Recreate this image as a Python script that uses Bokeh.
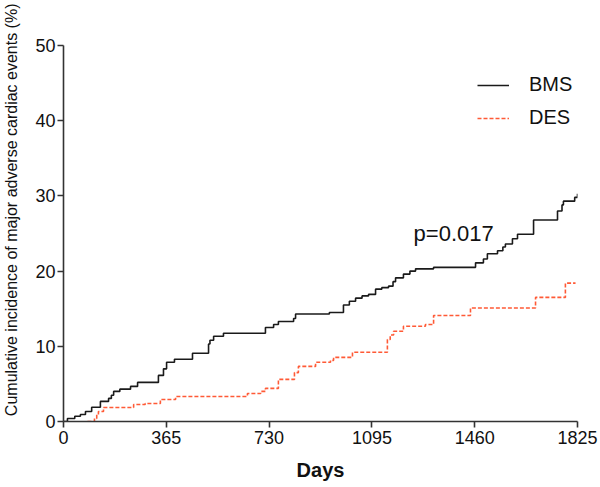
from bokeh.plotting import figure
from bokeh.models import Range1d, FixedTicker, Legend, LegendItem, Label, Title
from bokeh.embed import file_html
from bokeh.resources import INLINE

# BMS curve (day, cumulative %)
bms_days = [0, 14, 40, 60, 78, 100, 131, 160, 170, 178, 200, 238, 263, 337, 355, 366, 394, 458,
            515, 520, 533, 568, 717, 746, 763, 817, 824, 944, 994, 1015, 1037, 1060, 1083, 1108,
            1130, 1154, 1170, 1179, 1207, 1230, 1250, 1314, 1463, 1491, 1505, 1541, 1560, 1569,
            1594, 1612, 1669, 1754, 1770, 1775, 1815, 1825]
bms_pct = [0, 0.4, 0.7, 0.93, 1.33, 1.9, 2.67, 3.07, 3.5, 4.0, 4.3, 4.67, 5.2, 6.13, 7.0, 7.87, 8.27, 9.07,
           10.3, 10.8, 11.33, 11.73, 12.5, 12.9, 13.3, 13.7, 14.3, 14.5, 15.5, 16.0, 16.4, 16.7, 16.9, 17.6,
           17.8, 18.0, 18.6, 19.1, 19.6, 20.0, 20.3, 20.5, 21.1, 21.6, 22.3, 22.7, 23.2, 23.6,
           24.3, 24.9, 26.8, 28.0, 28.8, 29.3, 29.8, 30.3]

# DES curve (day, cumulative %)
des_days = [85, 110, 118, 124, 142, 249, 290, 344, 398, 653, 700, 717, 763, 820, 834, 895, 948, 959,
            1026, 1150, 1160, 1172, 1207, 1285, 1314, 1445, 1676, 1782, 1818]
des_pct = [0, 0.4, 0.9, 1.33, 1.87, 2.27, 2.4, 2.93, 3.33, 3.73, 4.0, 4.4, 5.6, 6.5, 7.33, 7.87, 8.13, 8.53,
           9.2, 10.9, 11.5, 12.0, 12.67, 12.9, 14.1, 15.1, 16.5, 18.4, 18.4]

x_ticks = [0, 365, 730, 1095, 1460, 1825]
y_ticks = [0, 10, 20, 30, 40, 50]
series_names = ["BMS", "DES"]
p_text = "p=0.017"
p_pos = (1243, 25)
y_title = "Cumulative incidence of major adverse cardiac events (%)"

FONT = "Liberation Sans"

p = figure(width=598, height=483, output_backend="svg", toolbar_location=None,
           x_range=Range1d(0, 1825), y_range=Range1d(0, 50),
           min_border_left=63, min_border_right=21, min_border_top=45, min_border_bottom=58)
p.outline_line_color = None
p.xgrid.visible = False
p.ygrid.visible = False

r_bms = p.step(bms_days, bms_pct, mode="after", line_color="#1a1a1a", line_width=1.6)
r_des = p.step(des_days, des_pct, mode="after", line_color="#ff5a36", line_width=1.6, line_dash="4 2")

for ax in (p.xaxis[0], p.yaxis[0]):
    ax.axis_line_color = "#333333"
    ax.axis_line_width = 1.6
    ax.major_tick_line_color = "#333333"
    ax.major_tick_line_width = 1.6
    ax.major_tick_out = 6
    ax.major_tick_in = 0
    ax.minor_tick_line_color = None
    ax.major_label_text_font = FONT
    ax.major_label_text_font_size = "18px"
    ax.major_label_text_color = "#111111"
    ax.axis_label_text_font = FONT
    ax.axis_label_text_color = "#111111"

p.xaxis.ticker = FixedTicker(ticks=x_ticks)
p.yaxis.ticker = FixedTicker(ticks=y_ticks)
p.xaxis.major_label_standoff = 3
p.yaxis.major_label_standoff = 2

p.xaxis.axis_label = "Days"
p.xaxis.axis_label_text_font_style = "bold"
p.xaxis.axis_label_text_font_size = "20px"
p.xaxis.axis_label_standoff = 12

# spacer label on the y axis to push the side title outward
p.yaxis.axis_label = " "
p.yaxis.axis_label_text_font_size = "1px"
p.yaxis.axis_label_standoff = 9

p.add_layout(Title(text=y_title, align="right", offset=-42, standoff=0,
                   text_font=FONT, text_font_size="16px", text_font_style="normal",
                   text_color="#111111"), "left")

legend = Legend(items=[LegendItem(label=series_names[0], renderers=[r_bms]),
                       LegendItem(label=series_names[1], renderers=[r_des])],
                location=(414, 292), glyph_width=32, glyph_height=20, label_height=20,
                spacing=10, label_standoff=20, padding=10, margin=0,
                border_line_color=None, background_fill_alpha=0,
                label_text_font=FONT, label_text_font_size="20px", label_text_color="#111111")
p.add_layout(legend)

p.add_layout(Label(x=p_pos[0], y=p_pos[1], text=p_text, text_font=FONT, text_font_size="22px",
                   text_color="#111111", text_baseline="middle", text_align="left"))

open("out.html", "w").write(file_html(p, INLINE))
